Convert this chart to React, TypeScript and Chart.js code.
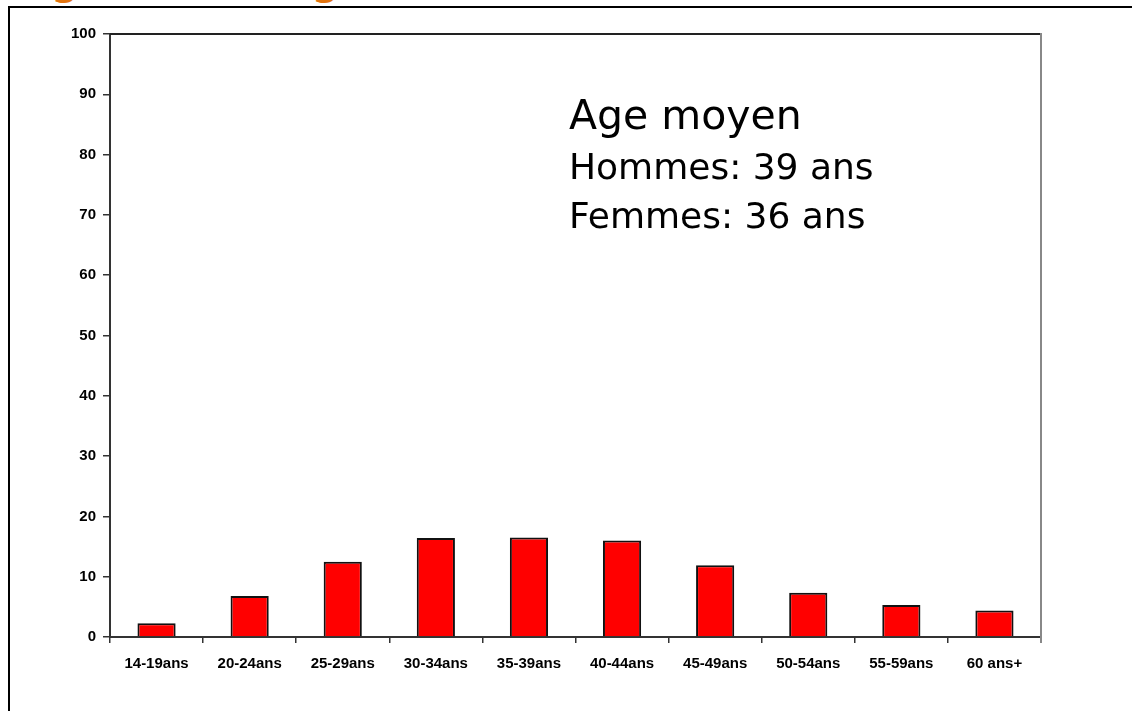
import React, { useEffect, useRef } from "react";
import { Chart, registerables } from "chart.js";

Chart.register(...registerables);

const categories = ["14-19ans", "20-24ans", "25-29ans", "30-34ans", "35-39ans", "40-44ans", "45-49ans", "50-54ans", "55-59ans", "60 ans+"];
const values = [2.3, 6.8, 12.5, 16.4, 16.5, 16.0, 11.9, 7.35, 5.3, 4.4];
const yTicks = [0, 10, 20, 30, 40, 50, 60, 70, 80, 90, 100];
const titleText = "Age des usagers";
const noteTitle = "Age moyen";
const noteLines = ["Hommes: 39 ans", "Femmes: 36 ans"];

const W = 1132;
const H = 711;

export default function App() {
  const ref = useRef<HTMLCanvasElement | null>(null);

  useEffect(() => {
    const canvas = ref.current;
    if (!canvas) return;
    const framePlugin = {
      id: "framePlugin",
      afterDraw(chart: any) {
        const { ctx, chartArea } = chart;
        ctx.save();
        ctx.strokeStyle = "#222";
        ctx.lineWidth = 2;
        ctx.beginPath();
        ctx.moveTo(chartArea.left, chartArea.top);
        ctx.lineTo(chartArea.right, chartArea.top);
        ctx.stroke();
        ctx.strokeStyle = "#888";
        ctx.lineWidth = 2;
        ctx.beginPath();
        ctx.moveTo(chartArea.right, chartArea.top - 1);
        ctx.lineTo(chartArea.right, chartArea.bottom + 6);
        ctx.stroke();
        ctx.strokeStyle = "#000";
        ctx.lineWidth = 2;
        ctx.beginPath();
        ctx.moveTo(9, H);
        ctx.lineTo(9, 7);
        ctx.lineTo(W, 7);
        ctx.stroke();
        ctx.restore();
      },
    };
    const chart = new Chart(canvas, {
      type: "bar",
      data: {
        labels: categories,
        datasets: [
          {
            data: values,
            backgroundColor: "#FF0000",
            borderColor: "#111",
            borderWidth: 2,
            barPercentage: 0.41,
            categoryPercentage: 1,
          },
        ],
      },
      options: {
        responsive: false,
        animation: false,
        layout: { padding: { left: 0, top: 34, right: W - 1041, bottom: 30 } },
        plugins: { legend: { display: false }, tooltip: { enabled: false } },
        scales: {
          x: {
            grid: { display: true, drawOnChartArea: false, offset: true, tickLength: 6, color: "#333", lineWidth: 1.5 },
            border: { color: "#333", width: 2 },
            ticks: { color: "#000", font: { family: "Liberation Sans", size: 15, weight: "bold" }, padding: 12, maxRotation: 0 },
            afterFit(scale: any) {
              scale.height = 44;
            },
          },
          y: {
            min: 0,
            max: 100,
            afterBuildTicks(scale: any) {
              scale.ticks = yTicks.map((v) => ({ value: v }));
            },
            grid: { display: true, drawOnChartArea: false, tickLength: 7, color: "#333", lineWidth: 1.5 },
            border: { color: "#333", width: 2 },
            ticks: { color: "#000", font: { family: "Liberation Sans", size: 15, weight: "bold" }, padding: 7 },
            afterFit(scale: any) {
              scale.width = 110;
            },
          },
        },
      },
      plugins: [framePlugin],
    });
    return () => chart.destroy();
  }, []);

  const lineStyle = (size: number, top: number): React.CSSProperties => ({
    position: "absolute",
    left: 569,
    top,
    fontFamily: "'DejaVu Sans', sans-serif",
    fontSize: size,
    lineHeight: `${size}px`,
    color: "#000",
    whiteSpace: "nowrap",
  });

  return (
    <div style={{ position: "fixed", left: 0, top: 0, width: W, height: H, background: "#fff", overflow: "hidden" }}>
      <div
        style={{
          position: "absolute",
          left: 17,
          top: -48,
          fontFamily: "'DejaVu Sans', sans-serif",
          fontSize: 48,
          lineHeight: "48px",
          color: "#E2740F",
          whiteSpace: "nowrap",
        }}
      >
        {titleText}
      </div>
      <canvas ref={ref} width={W} height={H} style={{ position: "absolute", left: 0, top: 0 }} />
      <div style={lineStyle(41, 95)}>{noteTitle}</div>
      <div style={lineStyle(36, 149)}>{noteLines[0]}</div>
      <div style={lineStyle(36, 198)}>{noteLines[1]}</div>
    </div>
  );
}
